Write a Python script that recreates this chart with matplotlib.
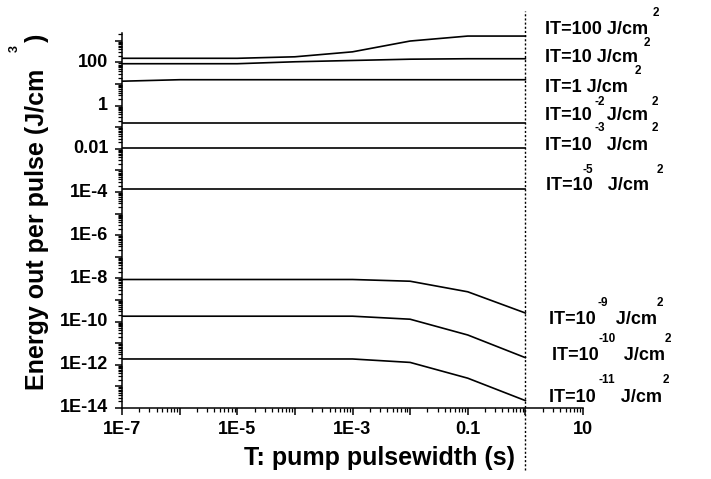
import matplotlib
matplotlib.use("Agg")
import matplotlib.pyplot as plt
import matplotlib.ticker as mticker
import numpy as np

plt.rcParams['font.family'] = ['Liberation Sans', 'DejaVu Sans']
plt.rcParams['font.weight'] = 'bold'

# pulsewidth T (s)
pulsewidth = [1e-7, 1e-6, 1e-5, 1e-4, 1e-3, 1e-2, 1e-1, 1]

# energy out per pulse (J/cm^3) for each IT value
e_it100 = [155, 155, 155, 182, 309, 977, 1660, 1660]
e_it10 = [87, 87, 87, 107, 123, 141, 148, 148]
e_it1 = [13.5, 15.8, 15.8, 15.8, 15.8, 15.8, 15.8, 15.8]
e_it1em2 = [0.151] * 8
e_it1em3 = [0.0105] * 8
e_it1em5 = [1.45e-4] * 8
e_it1em9 = [8.9e-9, 8.9e-9, 8.9e-9, 8.9e-9, 8.9e-9, 7.4e-9, 2.4e-9, 2.5e-10]
e_it1em10 = [1.78e-10, 1.78e-10, 1.78e-10, 1.78e-10, 1.78e-10, 1.29e-10, 2.4e-11, 2.14e-12]
e_it1em11 = [1.86e-12, 1.86e-12, 1.86e-12, 1.86e-12, 1.86e-12, 1.29e-12, 2.4e-13, 2.2e-14]

series = [e_it100, e_it10, e_it1, e_it1em2, e_it1em3, e_it1em5,
          e_it1em9, e_it1em10, e_it1em11]

x_ticks = [1e-7, 1e-5, 1e-3, 0.1, 10]
x_ticklabels = ['1E-7', '1E-5', '1E-3', '0.1', '10']
y_ticks = [1e-14, 1e-12, 1e-10, 1e-8, 1e-6, 1e-4, 1e-2, 1, 100]
y_ticklabels = ['1E-14', '1E-12', '1E-10', '1E-8', '1E-6', '1E-4', '0.01', '1', '100']

W, H = 711, 479
fig = plt.figure(figsize=(W / 100, H / 100), dpi=100)
ax = fig.add_axes([122 / W, 1 - 408 / H, (583 - 122) / W, (408 - 33) / H])

for s in series:
    ax.plot(pulsewidth, s, color='black', lw=1.2)

ax.set_xscale('log')
ax.set_yscale('log')
ax.set_xlim(1e-7, 10)
ax.set_ylim(1e-14, 2300)

# ejes estilo origin
for sp in ['top', 'right']:
    ax.spines[sp].set_visible(False)
for sp in ['left', 'bottom']:
    ax.spines[sp].set_linewidth(1.1)

ax.xaxis.set_major_locator(mticker.LogLocator(base=10, numticks=20))
ax.xaxis.set_minor_locator(mticker.LogLocator(base=10, subs=np.arange(2, 10), numticks=20))
ax.yaxis.set_major_locator(mticker.LogLocator(base=10, numticks=30))
ax.yaxis.set_minor_locator(mticker.LogLocator(base=10, subs=np.arange(2, 10), numticks=30))
ax.xaxis.set_major_formatter(mticker.NullFormatter())
ax.yaxis.set_major_formatter(mticker.NullFormatter())
ax.xaxis.set_minor_formatter(mticker.NullFormatter())
ax.yaxis.set_minor_formatter(mticker.NullFormatter())
ax.tick_params(which='major', direction='out', length=5, width=1.1)
ax.tick_params(which='minor', direction='out', length=3, width=0.9)

for xv, lab in zip(x_ticks, x_ticklabels):
    ax.text(xv, -0.035, lab, transform=ax.get_xaxis_transform(), ha='center', va='top',
            fontsize=13, fontweight='bold')
for yv, lab in zip(y_ticks, y_ticklabels):
    ax.text(-0.03, yv, lab, transform=ax.get_yaxis_transform(), ha='right', va='center',
            fontsize=13, fontweight='bold')

# linea punteada en T = 1 s
ax.axvline(1, ymin=-0.165, ymax=1.06, color='black', lw=1.0, ls=(0, (1.5, 1.5)), clip_on=False)

# titulos de ejes
fig.text(380 / W, 1 - 458 / H, 'T: pump pulsewidth (s)', ha='center', va='center',
         fontsize=18, fontweight='bold')
fig.text(37 / W, 1 - 390 / H, 'Energy out per pulse (J/cm', rotation=90, ha='center',
         va='bottom', fontsize=18, fontweight='bold')
fig.text(37 / W, 1 - 38 / H, ')', rotation=90, ha='center', va='center',
         fontsize=18, fontweight='bold')
fig.text(15 / W, 1 - 48 / H, '3', rotation=90, ha='center', va='center',
         fontsize=9, fontweight='bold')

# etiquetas IT a la derecha (texto, x, y)
labels = [
    ('IT=100 J/cm', 545, 30), ('IT=10 J/cm', 545, 58), ('IT=1 J/cm', 545, 87),
    ('IT=10   J/cm', 545, 115), ('IT=10   J/cm', 545, 145), ('IT=10   J/cm', 546, 186),
    ('IT=10    J/cm', 549, 320), ('IT=10     J/cm', 552, 356), ('IT=10     J/cm', 549, 397),
]
small = [
    ('2', 656, 13), ('2', 647, 43), ('2', 638, 71),
    ('-2', 600, 102), ('2', 655, 102), ('-3', 600, 128), ('2', 655, 128),
    ('-5', 588, 170), ('2', 660, 170),
    ('-9', 603, 303), ('2', 660, 303),
    ('-10', 607, 339), ('2', 668, 339),
    ('-11', 607, 380), ('2', 666, 380),
]
for t, x, y in labels:
    fig.text(x / W, 1 - y / H, t, ha='left', va='center', fontsize=13, fontweight='bold')
for t, x, y in small:
    fig.text(x / W, 1 - y / H, t, ha='center', va='center', fontsize=8.5, fontweight='bold')

fig.savefig('out.png', dpi=100)
